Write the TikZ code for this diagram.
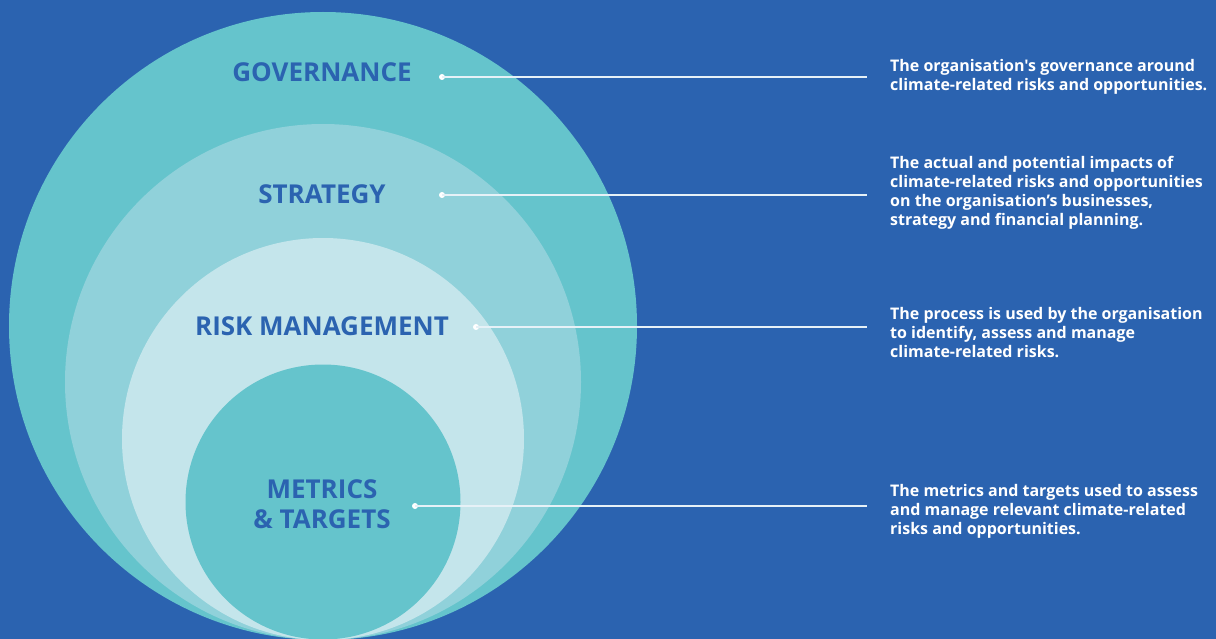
\documentclass[tikz,border=0pt]{standalone}
\usepackage{fontspec}
\setmainfont{Open Sans}[Ligatures=TeXOff]
\definecolor{bgblue}{HTML}{2B63B0}
\definecolor{ringA}{HTML}{65C4CC}
\definecolor{ringB}{HTML}{90D1DA}
\definecolor{ringC}{HTML}{C4E5EB}
\definecolor{ringD}{HTML}{65C4CC}
\definecolor{leader}{HTML}{E6F1F7}
\tikzset{
  pillar/.style={font=\fontsize{26}{30}\selectfont\bfseries, text=bgblue, align=center, inner sep=0pt},
  dot/.style={circle, fill=white, inner sep=0pt, minimum size=6pt},
  leaderline/.style={draw=leader, line width=1.6pt},
  note/.style={font=\fontsize{16}{19}\selectfont\bfseries, text=white, align=left, anchor=west, inner sep=0pt}
}
\begin{document}
\begin{tikzpicture}[x=1pt, y=-1pt]
  \useasboundingbox (0,0) rectangle (1216,639);
  \fill[bgblue] (0,0) rectangle (1216,639);
  \begin{scope}
    \clip (0,0) rectangle (1216,639);
    % nested circles, all touching at the bottom edge
    \fill[ringA] (323,326) circle[radius=314];
    \fill[ringB] (323,382) circle[radius=258];
    \fill[ringC] (323,439) circle[radius=201];
    \fill[ringD] (323,502) circle[radius=137.5];
  \end{scope}

  % pillar titles
  \node[pillar] (gov) at (322,72) {GOVERNANCE};
  \node[pillar] (str) at (322,194) {STRATEGY};
  \node[pillar] (risk) at (322,326) {RISK MANAGEMENT};
  \node[pillar] (met) at (322,504.5) {METRICS\\\& TARGETS};

  % leader dots and line ends
  \node[dot] (dgov) at (442,77) {};
  \node[dot] (dstr) at (442,195) {};
  \node[dot] (drisk) at (476,327) {};
  \node[dot] (dmet) at (415,506) {};
  \coordinate (egov) at (867,77);
  \coordinate (estr) at (867,195);
  \coordinate (erisk) at (867,327);
  \coordinate (emet) at (867,506);

  \draw[leaderline] (dgov.center) -- (egov);
  \draw[leaderline] (dstr.center) -- (estr);
  \draw[leaderline] (drisk.center) -- (erisk);
  \draw[leaderline] (dmet.center) -- (emet);

  % descriptions
  \node[note] (ngov) at (890,77) {The organisation's governance around\\climate-related risks and opportunities.};
  \node[note] (nstr) at (890,193) {The actual and potential impacts of\\climate-related risks and opportunities\\on the organisation’s businesses,\\strategy and financial planning.};
  \node[note] (nrisk) at (890,333) {The process is used by the organisation\\to identify, assess and manage\\climate-related risks.};
  \node[note] (nmet) at (890,511) {The metrics and targets used to assess\\and manage relevant climate-related\\risks and opportunities.};
\end{tikzpicture}
\end{document}
